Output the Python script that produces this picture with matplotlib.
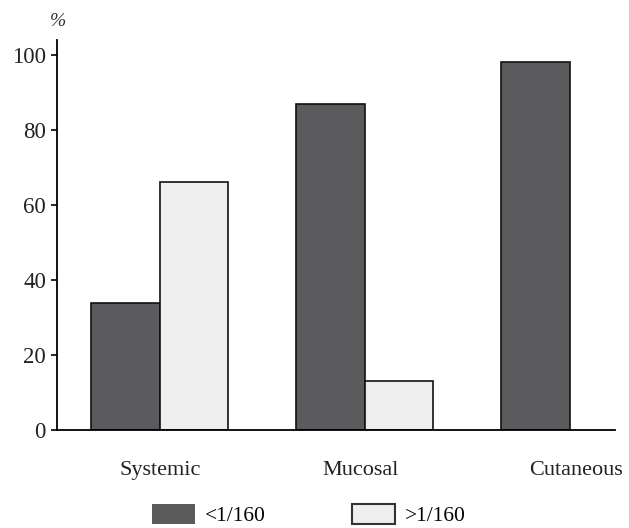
import matplotlib
matplotlib.use("Agg")
import matplotlib.pyplot as plt
import numpy as np
from matplotlib.patches import Patch

categories = ["Systemic", "Mucosal", "Cutaneous"]
low_titre = [34, 87, 98]      # <1/160
high_titre = [66, 13, 0]      # >1/160
yticks = [0, 20, 40, 60, 80, 100]
series_labels = ["<1/160", ">1/160"]

plt.rcParams['font.family'] = ['Liberation Serif', 'DejaVu Serif']

fig = plt.figure(figsize=(6.29, 5.28), dpi=100)
ax = fig.add_axes([57/629, 98/528, (615-57)/629, (430-40)/528])

x = np.arange(len(categories))
w = 0.334
dark = "#5b5b5e"
light = "#eeeeee"
ax.bar(x - w/2, low_titre, w, color=dark, edgecolor="#111111", linewidth=1.2, label=series_labels[0])
hb = ax.bar(x + w/2, high_titre, w, color=light, edgecolor="#111111", linewidth=1.2, label=series_labels[1])
for b, v in zip(hb, high_titre):
    if v == 0:
        b.set_visible(False)

ax.set_xlim(-0.502, 2.22)
ax.set_ylim(0, 104)
ax.set_yticks(yticks)
ax.set_yticklabels([str(t) for t in yticks], fontsize=16.5, color="#222222")
ax.tick_params(axis='y', length=4, width=1.2, direction='out', pad=4)
ax.set_xticks(x + np.array([0, -0.02, 0.03]))
ax.set_xticklabels(categories, fontsize=16, color="#222222")
ax.tick_params(axis='x', length=0, pad=22)
for s in ["top", "right"]:
    ax.spines[s].set_visible(False)
ax.spines["left"].set_linewidth(1.3)
ax.spines["bottom"].set_linewidth(1.3)

fig.text(58/629, 1 - 22/528, "%", fontsize=14, ha="center", va="center", color="#333333", style="italic")

handles = [Patch(facecolor=dark, edgecolor="none"), Patch(facecolor=light, edgecolor="#333333", linewidth=1.5)]
fig.legend(handles, series_labels, loc="center", bbox_to_anchor=(309/629, 13/528), ncol=2,
           frameon=False, fontsize=15.5, handlelength=2.0, handleheight=1.1,
           handletextpad=0.45, columnspacing=4.0)

fig.savefig("out.png", dpi=100)
